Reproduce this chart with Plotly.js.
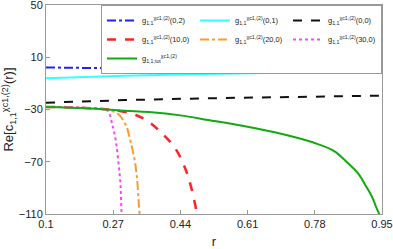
<!DOCTYPE html>
<html>
<head>
<meta charset="utf-8">
<script src="https://cdn.plot.ly/plotly-3.0.1.min.js"></script>
<style>html,body{margin:0;padding:0;background:#fff;}#chart{width:393px;height:249px;}</style>
</head>
<body>
<div id="chart"></div>
<script>
// Data
const r02 = [0.1, 0.3, 0.5, 0.7, 0.95];
const g02 = [2.2, 1.3, 0.7, 0.2, -0.1];
const r01 = [0.1, 0.3, 0.5, 0.7, 0.95];
const g01 = [-6.1, -4.2, -2.9, -1.8, -0.6];
const r00 = [0.1, 0.3, 0.51, 0.7, 0.95];
const g00 = [-24.8, -22.8, -21.4, -20.3, -19.4];
const r100 = [0.1, 0.15, 0.2, 0.25, 0.277, 0.327, 0.36, 0.393, 0.427, 0.452, 0.468, 0.481, 0.487];
const g100 = [-28, -28.2, -28.8, -29.8, -30.6, -34.2, -39.4, -48.2, -59.7, -75, -90.4, -108.3, -118];
const r200 = [0.1, 0.15, 0.2, 0.24, 0.26, 0.281, 0.302, 0.314, 0.325, 0.331, 0.335, 0.339];
const g200 = [-28, -28.2, -28.8, -29.6, -30.8, -33, -41.9, -54.7, -70, -85.3, -103, -118];
const r300 = [0.1, 0.15, 0.2, 0.235, 0.256, 0.268, 0.277, 0.283, 0.288, 0.29, 0.292];
const g300 = [-28, -28.2, -28.7, -29.3, -31, -41.9, -54.7, -70, -85.3, -100, -118];
const rtot = [0.1, 0.2, 0.3, 0.36, 0.44, 0.51, 0.61, 0.7, 0.78, 0.83, 0.86, 0.89, 0.91, 0.925, 0.935, 0.946];
const gtot = [-28, -29, -31, -32, -34.5, -38, -43.2, -49, -55.7, -62, -70, -79, -89, -97, -104.5, -112];
const xTicks = [0.1, 0.27, 0.44, 0.61, 0.78, 0.95];
const yTicks = [-110, -70, -30, 10, 50];

const gl = s => 'g<sub>1,1</sub><sup>χc1,(2)</sup>' + s;

const traces = [
  {x: r02, y: g02, name: gl('(0,2)'), line: {color: '#2222ee', dash: 'dashdot', width: 2}},
  {x: r01, y: g01, name: gl('(0,1)'), line: {color: '#33ffff', dash: 'solid', width: 2}},
  {x: r00, y: g00, name: gl('(0,0)'), line: {color: '#111111', dash: 'dash', width: 2}},
  {x: r100, y: g100, name: gl('(10,0)'), line: {color: '#ff2222', dash: 'dash', width: 2.5, shape: 'spline'}},
  {x: r200, y: g200, name: gl('(20,0)'), line: {color: '#ff9933', dash: 'dashdot', width: 2, shape: 'spline'}},
  {x: r300, y: g300, name: gl('(30,0)'), line: {color: '#ff44ff', dash: 'dot', width: 2, shape: 'spline'}},
  {x: rtot, y: gtot, name: 'g<sub>1,1;tot</sub><sup>χc1,(2)</sup>', line: {color: '#11aa11', dash: 'solid', width: 2, shape: 'spline'}}
].map(t => Object.assign({type: 'scatter', mode: 'lines'}, t));

const axisCommon = {
  showgrid: false, zeroline: false, showline: true, mirror: true, automargin: false,
  ticklabeloverflow: 'allow',
  linecolor: '#999999', linewidth: 1, ticks: 'inside', ticklen: 4, tickcolor: '#999999',
  tickfont: {family: 'Liberation Sans, Arial, sans-serif', size: 11, color: '#222'}
};

const layout = {
  width: 393, height: 249,
  margin: {l: 46, r: 11, t: 5, b: 35},
  paper_bgcolor: '#fff', plot_bgcolor: '#fff',
  font: {family: 'Liberation Sans, Arial, sans-serif', size: 11, color: '#222'},
  xaxis: Object.assign({}, axisCommon, {
    range: [0.1, 0.95], tickvals: xTicks, ticktext: xTicks.map(v => String(v)),
    title: {text: 'r', font: {size: 13}, standoff: 8}
  }),
  yaxis: Object.assign({}, axisCommon, {
    range: [-110, 50], tickvals: yTicks, ticktext: yTicks.map(v => v < 0 ? '\u2212' + Math.abs(v) : String(v)),
    title: {text: 'Re[c<sub>1,1</sub><sup>χc1,(2)</sup>(r)]', font: {size: 13}, standoff: 4}
  }),
  showlegend: true,
  legend: {
    orientation: 'h', x: 1, y: 1, xanchor: 'right', yanchor: 'top',
    bgcolor: '#fff', bordercolor: '#999', borderwidth: 1,
    font: {family: 'Liberation Sans, Arial, sans-serif', size: 7.5, color: '#222'},
    entrywidth: 48, entrywidthmode: 'pixels', itemwidth: 30, tracegroupgap: 0
  }
};

Plotly.newPlot('chart', traces, layout, {displayModeBar: false, staticPlot: true});
</script>
</body>
</html>
